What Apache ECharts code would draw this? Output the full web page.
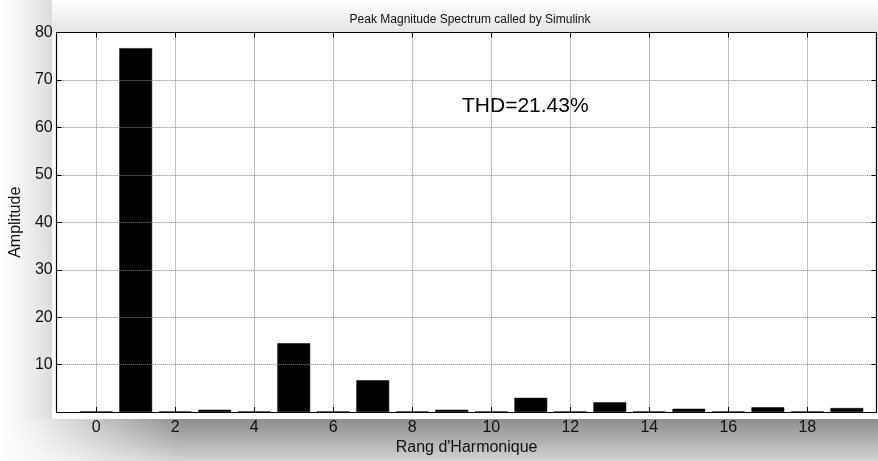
<!DOCTYPE html>
<html>
<head>
<meta charset="utf-8">
<script src="https://cdn.jsdelivr.net/npm/echarts@6/dist/echarts.min.js"></script>
<style>
html,body{margin:0;padding:0;background:#fff;}
#c{width:878px;height:461px;
  background-color:#fff;
  background-image:
    linear-gradient(to right, rgba(255,255,255,1) 0px, rgba(255,255,255,0.85) 36px, rgba(255,255,255,0) 180px),
    linear-gradient(to bottom, #8e8e8e 0%, #afafaf 50%, #d4d4d4 100%),
    linear-gradient(to right, #ffffff 0%, #f5f5f5 40%, #dcdcdc 100%),
    linear-gradient(to bottom, #ffffff 0%, #e4e4e4 100%);
  background-position: 0 419px, 0 419px, 0 0, 0 0;
  background-size: 180px 42px, 878px 42px, 52px 419px, 878px 32px;
  background-repeat: no-repeat;
}
</style>
</head>
<body>
<div id="c"></div>
<script>
// Harmonic order (x) and peak amplitude (y)
const harmonics = [0,1,2,3,4,5,6,7,8,9,10,11,12,13,14,15,16,17,18,19];
const amplitudes = [0.15,76.7,0.15,0.5,0.15,14.5,0.15,6.7,0.15,0.5,0.15,3.0,0.15,2.05,0.15,0.7,0.15,1.0,0.15,0.85];
const xTickValues = [0,2,4,6,8,10,12,14,16,18];
const yTickValues = [10,20,30,40,50,60,70,80];
const titleText = 'Peak Magnitude Spectrum called by Simulink';
const thdText = 'THD=21.43%';
const xName = "Rang d'Harmonique";
const yName = 'Amplitude';

const FONT = 'Liberation Sans, Arial, sans-serif';
const chart = echarts.init(document.getElementById('c'), null, {renderer: 'canvas'});
const gridLine = {show: true, lineStyle: {color: '#808080', width: 1, type: [1, 1]}};
const axisLine = {show: true, onZero: false, lineStyle: {color: '#000', width: 1.2}};

chart.setOption({
  animation: false,
  backgroundColor: 'transparent',
  title: {
    text: titleText, left: 465, top: 9, textAlign: 'center',
    textStyle: {fontFamily: FONT, fontSize: 12, fontWeight: 'normal', color: '#111'}
  },
  grid: {left: 52.5, right: 1.5, top: 32.5, bottom: 42.5, show: true, backgroundColor: '#fff', borderWidth: 0, containLabel: false},
  graphic: {
    elements: [
      {type: 'text', x: 462, y: 96, silent: true, z: 5,
       style: {text: thdText, fontFamily: FONT, fontSize: 21, fill: '#000'}}
    ]
  },
  xAxis: [
    {
      type: 'value', min: -1, max: 19.75, position: 'bottom', z: 10,
      name: xName, nameLocation: 'middle', nameGap: 23,
      nameTextStyle: {fontFamily: FONT, fontSize: 16, color: '#111'},
      axisLine: axisLine,
      axisTick: {show: true, inside: true, length: 5, lineStyle: {color: '#000'}, customValues: xTickValues},
      axisLabel: {show: true, margin: 7, fontFamily: FONT, fontSize: 16, color: '#111', customValues: xTickValues},
      splitLine: gridLine
    },
    {
      type: 'value', min: -1, max: 19.75, position: 'top', z: 10,
      axisLine: axisLine,
      axisTick: {show: true, inside: true, length: 5, lineStyle: {color: '#000'}, customValues: xTickValues},
      axisLabel: {show: false},
      splitLine: {show: false}
    }
  ],
  yAxis: [
    {
      type: 'value', min: 0, max: 80, interval: 10, position: 'left', z: 10,
      name: yName, nameLocation: 'middle', nameGap: 29, nameRotate: 90,
      nameTextStyle: {fontFamily: FONT, fontSize: 16, color: '#111'},
      axisLine: axisLine,
      axisTick: {show: true, inside: true, length: 5, lineStyle: {color: '#000'}, customValues: yTickValues},
      axisLabel: {show: true, margin: 4, fontFamily: FONT, fontSize: 16, color: '#111', customValues: yTickValues},
      splitLine: gridLine
    },
    {
      type: 'value', min: 0, max: 80, interval: 10, position: 'right', z: 10,
      axisLine: axisLine,
      axisTick: {show: true, inside: true, length: 5, lineStyle: {color: '#000'}, customValues: yTickValues},
      axisLabel: {show: false},
      splitLine: {show: false}
    }
  ],
  series: [{
    type: 'bar', xAxisIndex: 0, yAxisIndex: 0,
    data: harmonics.map((h, i) => [h, amplitudes[i]]),
    barWidth: '83%',
    itemStyle: {color: '#000', borderColor: '#000', borderWidth: 0.5},
    z: 3
  }]
});
</script>
</body>
</html>
